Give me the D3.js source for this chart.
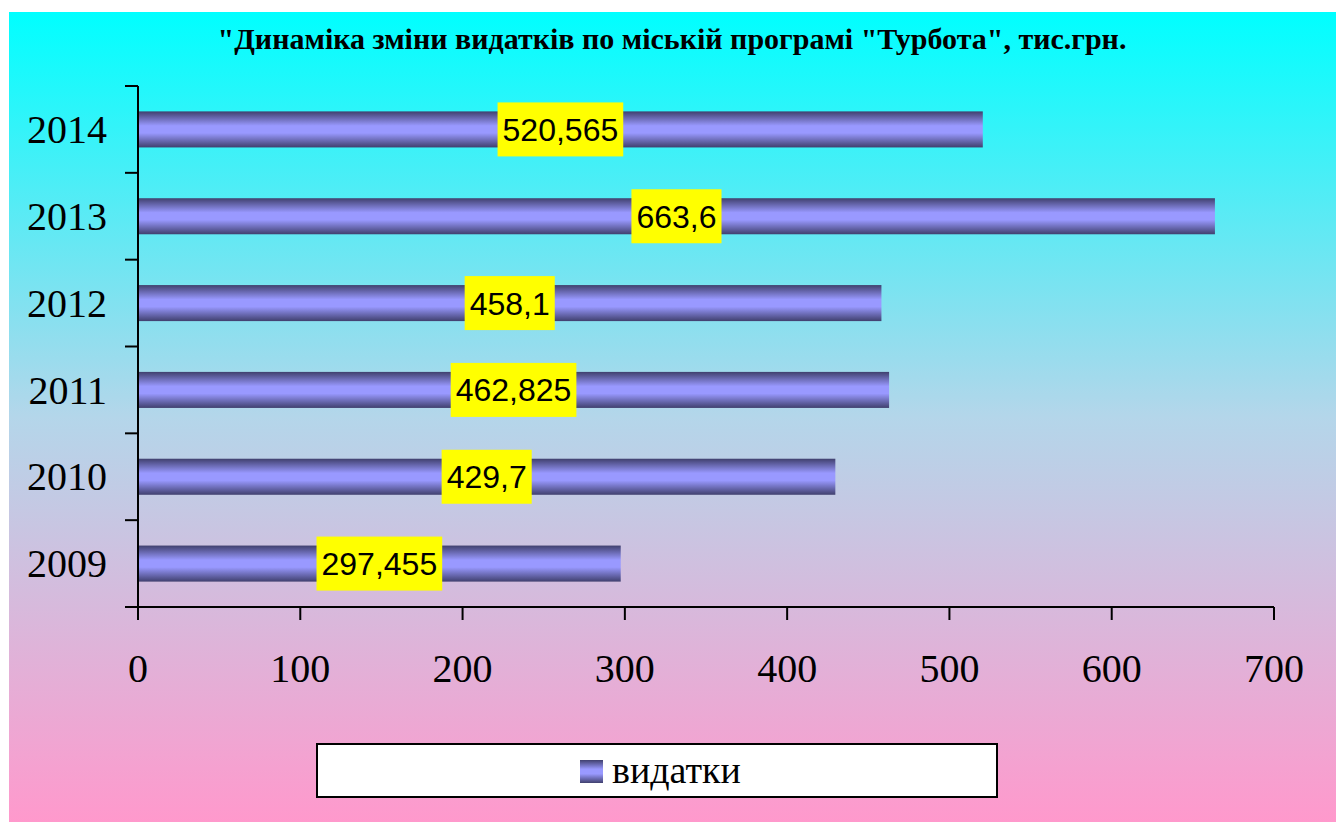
<!DOCTYPE html>
<html>
<head>
<meta charset="utf-8">
<script src="https://cdn.jsdelivr.net/npm/d3@7"></script>
<style>
  body { margin: 0; background: #fff; }
  svg { display: block; }
</style>
</head>
<body>
<svg width="1336" height="823"></svg>
<script>
const years = ["2009", "2010", "2011", "2012", "2013", "2014"];
const spending = [297.455, 429.7, 462.825, 458.1, 663.6, 520.565];
const xTicks = [0, 100, 200, 300, 400, 500, 600, 700];
const titleText = "\"Динаміка зміни видатків по міській програмі \"Турбота\", тис.грн.";
const legendLabel = "видатки";

function render() {
  let svg = d3.select("svg");
  let defs = svg.append("defs");

  let bg = defs.append("linearGradient")
    .attr("id", "bg").attr("x1", 0).attr("y1", 0).attr("x2", 0).attr("y2", 1);
  bg.append("stop").attr("offset", 0).attr("stop-color", "#00ffff");
  bg.append("stop").attr("offset", 0.5).attr("stop-color", "#b4d6ea");
  bg.append("stop").attr("offset", 1).attr("stop-color", "#ff99cc");

  let barGrad = defs.append("linearGradient")
    .attr("id", "bar").attr("x1", 0).attr("y1", 0).attr("x2", 0).attr("y2", 1);
  barGrad.append("stop").attr("offset", 0).attr("stop-color", "#40406e");
  barGrad.append("stop").attr("offset", 0.4).attr("stop-color", "#9999ff");
  barGrad.append("stop").attr("offset", 0.6).attr("stop-color", "#9999ff");
  barGrad.append("stop").attr("offset", 1).attr("stop-color", "#40406e");

  svg.append("rect")
    .attr("x", 9).attr("y", 12)
    .attr("width", 1327).attr("height", 810)
    .attr("fill", "url(#bg)");

  svg.append("text")
    .attr("x", 672).attr("y", 49)
    .attr("text-anchor", "middle")
    .style("font-family", "'Liberation Serif', 'Times New Roman', serif")
    .style("font-weight", "bold")
    .style("font-size", "30px")
    .text(titleText);

  let plot = { left: 138, right: 1274, top: 86, bottom: 607 };

  let xScale = d3.scaleLinear().domain([0, 700]).range([plot.left, plot.right]);
  let yScale = d3.scaleBand()
    .domain(years.slice().reverse())
    .range([plot.top, plot.bottom])
    .paddingInner(0.585)
    .paddingOuter(0.2925);

  // bars
  svg.append("g").selectAll("rect")
    .data(years)
    .enter()
    .append("rect")
    .attr("x", xScale(0))
    .attr("y", d => yScale(d))
    .attr("width", (d, i) => xScale(spending[i]) - xScale(0))
    .attr("height", yScale.bandwidth())
    .attr("fill", "url(#bar)");

  // axes
  let gAxes = svg.append("g").attr("stroke", "#000").attr("stroke-width", 2);
  gAxes.append("line")
    .attr("x1", plot.left).attr("x2", plot.left)
    .attr("y1", plot.top).attr("y2", plot.bottom);
  gAxes.append("line")
    .attr("x1", plot.left - 13).attr("x2", plot.right)
    .attr("y1", plot.bottom).attr("y2", plot.bottom);

  let step = yScale.step();
  let boundaries = d3.range(years.length).map(i => plot.top + i * step);
  gAxes.selectAll(".ytick")
    .data(boundaries)
    .enter()
    .append("line")
    .attr("x1", plot.left - 13).attr("x2", plot.left)
    .attr("y1", d => d).attr("y2", d => d);

  gAxes.selectAll(".xtick")
    .data(xTicks)
    .enter()
    .append("line")
    .attr("x1", d => xScale(d)).attr("x2", d => xScale(d))
    .attr("y1", plot.bottom).attr("y2", plot.bottom + 13);

  let serif = "'Liberation Serif', 'Times New Roman', serif";

  svg.append("g").selectAll("text")
    .data(xTicks)
    .enter()
    .append("text")
    .attr("x", d => xScale(d))
    .attr("y", 682)
    .attr("text-anchor", "middle")
    .style("font-family", serif)
    .style("font-size", "40px")
    .text(d => d);

  svg.append("g").selectAll("text")
    .data(years)
    .enter()
    .append("text")
    .attr("x", 107)
    .attr("y", d => yScale(d) + yScale.bandwidth() / 2)
    .attr("dy", "0.34em")
    .attr("text-anchor", "end")
    .style("font-family", serif)
    .style("font-size", "40px")
    .text(d => d);

  // value labels
  let fmt = v => String(v).replace(".", ",");
  let gLabels = svg.append("g");
  years.forEach((y, i) => {
    let cx = (xScale(0) + xScale(spending[i])) / 2;
    let cy = yScale(y) + yScale.bandwidth() / 2;
    let g = gLabels.append("g");
    let box = g.append("rect").attr("fill", "#ffff00");
    let t = g.append("text")
      .attr("x", cx).attr("y", cy)
      .attr("dy", "0.36em")
      .attr("text-anchor", "middle")
      .style("font-family", "'Liberation Sans', Arial, sans-serif")
      .style("font-size", "32px")
      .text(fmt(spending[i]));
    let w = t.node().getComputedTextLength() + 10;
    box.attr("x", cx - w / 2).attr("y", cy - 27)
      .attr("width", w).attr("height", 54);
  });

  // legend
  let legend = svg.append("g");
  legend.append("rect")
    .attr("x", 317).attr("y", 744)
    .attr("width", 680).attr("height", 53)
    .attr("fill", "#fff")
    .attr("stroke", "#000").attr("stroke-width", 2);
  legend.append("rect")
    .attr("x", 580).attr("y", 760)
    .attr("width", 23).attr("height", 23)
    .attr("fill", "url(#bar)");
  legend.append("text")
    .attr("x", 612).attr("y", 783)
    .style("font-family", serif)
    .style("font-size", "38px")
    .text(legendLabel);
}

render();
</script>
</body>
</html>
